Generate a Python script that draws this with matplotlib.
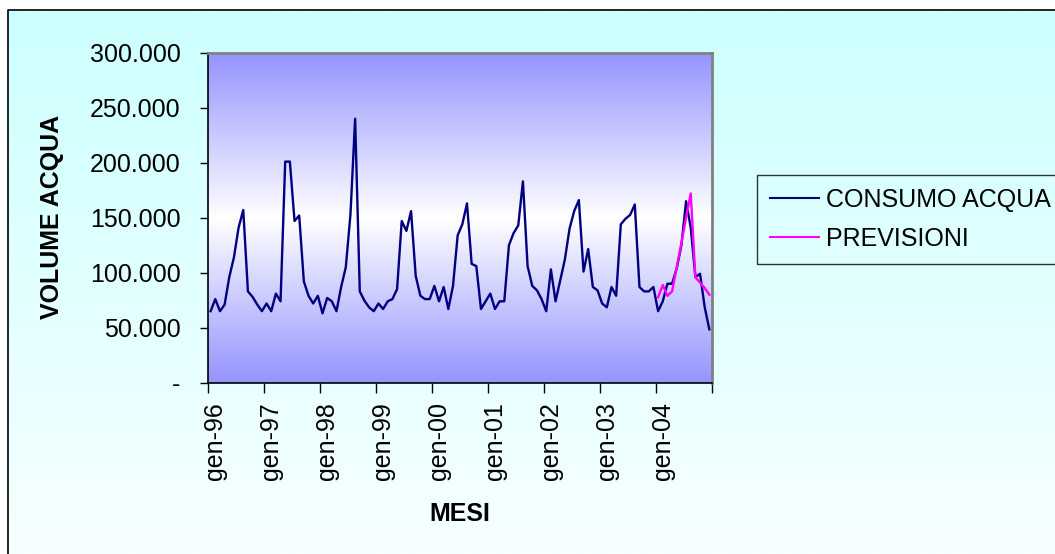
import numpy as np
import matplotlib
matplotlib.use("Agg")
import matplotlib.pyplot as plt
from matplotlib.colors import LinearSegmentedColormap
from matplotlib.ticker import FuncFormatter

plt.rcParams['font.family'] = ['Liberation Sans', 'DejaVu Sans']

# monthly water volume, thousands (gen-96 .. dic-04)
consumo = [
    65, 76, 65, 71, 96, 114, 141, 157, 83, 78, 71, 65,
    72, 65, 81, 74, 201, 201, 147, 152, 92, 79, 72, 79,
    63, 77, 74, 65, 87, 105, 153, 240, 83, 74.5, 68.5, 65,
    72, 67, 74, 76, 85, 147, 138, 156, 97, 79, 76, 76,
    88, 74, 87, 67, 88, 134, 144, 163, 108, 106, 67, 74,
    81, 67, 74, 74, 125, 136, 143, 183, 106, 88, 84, 76,
    65, 103, 74, 93, 112, 140, 156, 166, 101, 121.5, 87, 84,
    72, 68.5, 87, 79, 144, 149, 152.5, 162, 87, 83, 83, 87,
    65, 74, 90, 90, 104, 125, 165, 141, 96, 99, 68.5, 48.5,
]
# forecast for 2004
prev_start = 96
previsioni = [77.6, 88.8, 79, 83, 105, 127, 150, 172, 95.7, 91, 86, 80]
anni = ['96', '97', '98', '99', '00', '01', '02', '03', '04']

W, H = 1055, 554
fig = plt.figure(figsize=(W / 100, H / 100), dpi=100)
fig.patch.set_facecolor('white')

# chart area background (light cyan -> almost white)
bg = fig.add_axes([0, 0, 1, 1], zorder=-10)
bg.set_axis_off()
bg.set_xlim(0, W)
bg.set_ylim(H, 0)
cmap_bg = LinearSegmentedColormap.from_list('bg', ['#CCFFFF', '#F7FFFF'])
bg.imshow(np.linspace(0, 1, 256).reshape(-1, 1), cmap=cmap_bg, aspect='auto',
          extent=(8, W, H, 10), interpolation='bilinear')
bg.plot([8, 8, W], [H, 10, 10], color='black', lw=1.2)

# plot area
ax = fig.add_axes([208.3 / W, 1 - 382.7 / H, 503.4 / W, 330 / H])
cmap_pa = LinearSegmentedColormap.from_list('pa', ['#9494FF', '#FFFFFF', '#9494FF'])
ax.imshow(np.linspace(0, 1, 256).reshape(-1, 1), cmap=cmap_pa, aspect='auto',
          extent=(-0.5, 107.5, 0, 300000), interpolation='bilinear', zorder=0)

x = np.arange(len(consumo))
ax.plot(x, np.array(consumo) * 1000, color='#000080', lw=1.7, label='CONSUMO ACQUA', zorder=3)
xp = np.arange(prev_start, prev_start + len(previsioni))
ax.plot(xp, np.array(previsioni) * 1000, color='#FF00FF', lw=1.7, label='PREVISIONI', zorder=4)

ax.set_xlim(-0.5, 107.5)
ax.set_ylim(0, 300000)

for s in ['left', 'bottom']:
    ax.spines[s].set_color('black')
    ax.spines[s].set_linewidth(1.2)
for s in ['top', 'right']:
    ax.spines[s].set_color('#808080')
    ax.spines[s].set_linewidth(2)

ax.set_yticks(range(0, 300001, 50000))
ax.yaxis.set_major_formatter(FuncFormatter(
    lambda v, p: '-' if v == 0 else f'{int(v):,}'.replace(',', '.')))
ax.tick_params(axis='y', direction='out', length=6, width=1, pad=14, labelsize=18)

ax.set_xticks(np.arange(0, 109, 12) - 0.5)
ax.set_xticklabels([])
ax.set_xticks(np.arange(0, 108, 12) + 1, minor=True)
ax.set_xticklabels(['gen-' + a for a in anni], minor=True, rotation=90)
ax.tick_params(axis='x', which='major', direction='out', length=7, width=1)
ax.tick_params(axis='x', which='minor', length=0, pad=14, labelsize=18)

fig.text(51.7 / W, 1 - 216.7 / H, 'VOLUME ACQUA', rotation=90, ha='center', va='center',
         fontsize=18, fontweight='bold')
fig.text(459.7 / W, 1 - 514 / H, 'MESI', ha='center', va='center',
         fontsize=18, fontweight='bold')

leg = fig.legend(loc='upper left', bbox_to_anchor=(757 / W, 1 - 175 / H), fontsize=18,
                 frameon=True, fancybox=False, edgecolor='black', facecolor='none',
                 borderpad=0.5, handlelength=1.96, handletextpad=0.28,
                 labelspacing=0.62, borderaxespad=0)
leg.get_frame().set_linewidth(1)
for line in leg.get_lines():
    line.set_linewidth(1.5)

fig.savefig('out.png', dpi=100)
